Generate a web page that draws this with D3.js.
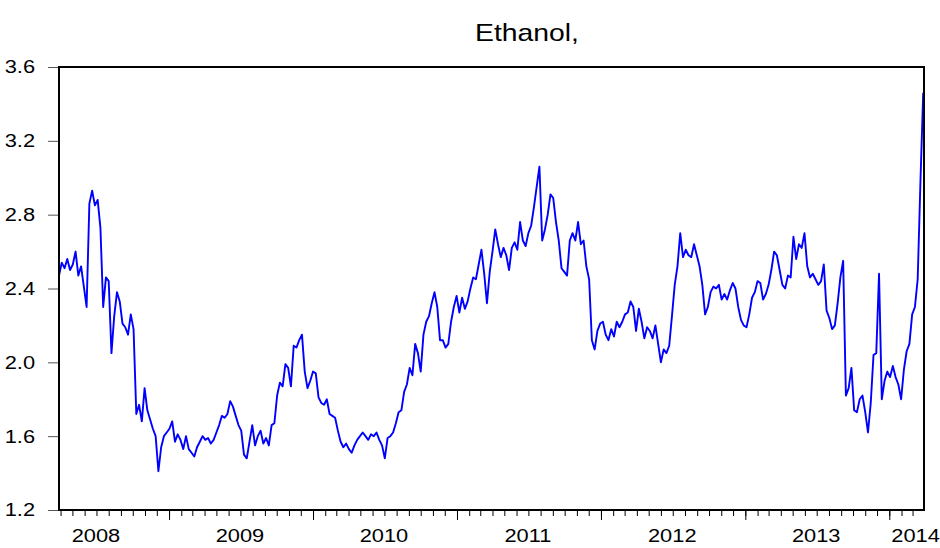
<!DOCTYPE html>
<html>
<head>
<meta charset="utf-8">
<script src="https://cdn.jsdelivr.net/npm/d3@7"></script>
<style>
  html, body { margin: 0; padding: 0; background: #fff; }
  svg text { font-family: "Liberation Sans", Arial, sans-serif; fill: #000; }
</style>
</head>
<body>
<div id="chart"></div>
<script>
// Weekly ethanol prices (first week: 28 Mar 2008)
const price2008 = [2.47, 2.54, 2.51, 2.56, 2.50, 2.53, 2.60, 2.47, 2.52, 2.41,
  2.30, 2.86, 2.93, 2.85, 2.88, 2.73, 2.30, 2.46, 2.44, 2.05,
  2.25, 2.38, 2.33, 2.21, 2.19, 2.15, 2.26, 2.18, 1.72, 1.77,
  1.68, 1.86, 1.74, 1.69, 1.64, 1.60, 1.41, 1.54, 1.60, 1.62];
const price2009 = [1.64, 1.68, 1.57, 1.61, 1.58, 1.53, 1.60, 1.53, 1.51, 1.49,
  1.54, 1.57, 1.60, 1.58, 1.59, 1.56, 1.58, 1.62, 1.66, 1.71,
  1.70, 1.72, 1.79, 1.76, 1.71, 1.66, 1.63, 1.50, 1.48, 1.57,
  1.66, 1.55, 1.60, 1.63, 1.56, 1.59, 1.55, 1.66, 1.67, 1.82,
  1.89, 1.87, 1.99, 1.97, 1.87, 2.09, 2.08, 2.12, 2.15, 1.95,
  1.86, 1.90];
const price2010 = [1.95, 1.94, 1.81, 1.78, 1.77, 1.80, 1.72, 1.71,
  1.70, 1.63, 1.57, 1.54, 1.56, 1.53, 1.51, 1.55, 1.58, 1.60,
  1.62, 1.60, 1.58, 1.61, 1.60, 1.62, 1.58, 1.55, 1.48, 1.59,
  1.60, 1.62, 1.67, 1.73, 1.74, 1.84, 1.88, 1.97, 1.93, 2.10,
  2.05, 1.95, 2.15, 2.22, 2.25, 2.32, 2.38, 2.30, 2.12, 2.12,
  2.08, 2.10, 2.22, 2.30];
const price2011 = [2.36, 2.27, 2.35, 2.29, 2.33, 2.40,
  2.46, 2.45, 2.53, 2.61, 2.48, 2.32, 2.49, 2.60, 2.72, 2.64,
  2.57, 2.62, 2.58, 2.50, 2.62, 2.65, 2.61, 2.76, 2.66, 2.63,
  2.70, 2.74, 2.84, 2.95, 3.06, 2.66, 2.72, 2.80, 2.91, 2.89,
  2.76, 2.66, 2.51, 2.49, 2.47, 2.66, 2.70, 2.66, 2.76, 2.64,
  2.66, 2.52, 2.45, 2.12, 2.07, 2.17, 2.21];
const price2012 = [2.22, 2.15, 2.12,
  2.18, 2.14, 2.22, 2.19, 2.22, 2.26, 2.27, 2.33, 2.30, 2.17,
  2.29, 2.22, 2.13, 2.19, 2.17, 2.13, 2.20, 2.10, 2.00, 2.07,
  2.05, 2.09, 2.25, 2.42, 2.52, 2.70, 2.57, 2.61, 2.58, 2.57,
  2.64, 2.58, 2.52, 2.42, 2.26, 2.30, 2.38, 2.41, 2.40, 2.42,
  2.34, 2.37, 2.34, 2.39, 2.43, 2.40, 2.30, 2.23, 2.20];
const price2013 = [2.19,
  2.26, 2.35, 2.38, 2.44, 2.43, 2.34, 2.37, 2.42, 2.50, 2.60,
  2.58, 2.50, 2.42, 2.40, 2.47, 2.46, 2.68, 2.56, 2.64, 2.62,
  2.70, 2.52, 2.46, 2.48, 2.45, 2.42, 2.44, 2.53, 2.28, 2.24,
  2.18, 2.20, 2.32, 2.46, 2.55, 1.82, 1.86, 1.97, 1.74, 1.73,
  1.80, 1.82, 1.73, 1.62, 1.78, 2.04, 2.05, 2.48, 1.80, 1.90,
  1.95];
const price2014 = [1.92, 1.98, 1.92, 1.88, 1.80, 1.96, 2.06, 2.10, 2.26, 2.30,
  2.45, 2.98, 3.46];

const yTicks = [1.2, 1.6, 2.0, 2.4, 2.8, 3.2, 3.6];
const yearLabels = ["2008", "2009", "2010", "2011", "2012", "2013", "2014"];
const title = "Ethanol,";

const firstWeek = new Date(Date.UTC(2008, 2, 28));
const lastDay = new Date(Date.UTC(2014, 2, 30));

const width = 940;
const height = 548;
const plot = { left: 59, right: 924, top: 67, bottom: 510 };
const textScale = 1.18; // glyphs in the picture are stretched sideways

const prices = [].concat(price2008, price2009, price2010, price2011,
  price2012, price2013, price2014);
const series = prices.map((v, i) => ({
  date: d3.utcDay.offset(firstWeek, 7 * i),
  value: v,
}));

const x = d3.scaleUtc().domain([firstWeek, lastDay]).range([plot.left, plot.right]);
const y = d3.scaleLinear().domain([1.2, 3.6]).range([plot.bottom, plot.top]);

const svg = d3
  .select("#chart")
  .append("svg")
  .attr("width", width)
  .attr("height", height);

// Title
svg
  .append("text")
  .attr("transform", `translate(527,41) scale(${textScale},1)`)
  .attr("text-anchor", "middle")
  .attr("font-size", "24px")
  .text(title);

// Y axis: short grey ticks outside the frame
const yAxis = svg
  .append("g")
  .attr("transform", `translate(${plot.left},0)`)
  .call(
    d3.axisLeft(y).tickValues(yTicks).tickSize(11).tickPadding(13)
      .tickFormat(d3.format(".1f"))
  );
yAxis.select(".domain").remove();
yAxis.selectAll("line").attr("stroke", "#555");
yAxis
  .selectAll("text")
  .attr("font-size", "18.5px")
  .attr("x", -24 / textScale)
  .attr("transform", `scale(${textScale},1)`);

// X axis: monthly minor ticks, yearly major ticks
const [d0, d1] = x.domain();
const months = d3.utcMonth.range(d3.utcMonth.ceil(d0), d1);
const years = d3.utcYear.range(d3.utcYear.ceil(d0), d1);

const xMinor = svg
  .append("g")
  .attr("transform", `translate(0,${plot.bottom})`)
  .call(d3.axisBottom(x).tickValues(months).tickSize(6).tickFormat(""));
xMinor.select(".domain").remove();

const xMajor = svg
  .append("g")
  .attr("transform", `translate(0,${plot.bottom})`)
  .call(d3.axisBottom(x).tickValues(years).tickSize(10).tickFormat(""));
xMajor.select(".domain").remove();

// Year labels sit at mid-year, the last one is pulled back inside
const labelDates = yearLabels.map((yr) => {
  const mid = new Date(Date.UTC(+yr, 6, 1));
  return mid > d1 ? d3.utcDay.offset(d1, -20) : mid;
});
const xLabels = svg
  .append("g")
  .attr("transform", `translate(-1,${plot.bottom})`)
  .call(
    d3.axisBottom(x).tickValues(labelDates).tickSize(0).tickPadding(18.6)
      .tickFormat((d, i) => yearLabels[i])
  );
xLabels.select(".domain").remove();
xLabels
  .selectAll("text")
  .attr("font-size", "18.5px")
  .attr("transform", `scale(${textScale},1)`);

// Series line
const line = d3
  .line()
  .defined((d) => d.value != null)
  .x((d) => x(d.date))
  .y((d) => y(d.value));

svg
  .append("path")
  .datum(series)
  .attr("fill", "none")
  .attr("stroke", "#0000ff")
  .attr("stroke-width", 1.9)
  .attr("stroke-linejoin", "round")
  .attr("d", line);

// Frame
svg
  .append("rect")
  .attr("x", plot.left)
  .attr("y", plot.top)
  .attr("width", plot.right - plot.left)
  .attr("height", plot.bottom - plot.top)
  .attr("fill", "none")
  .attr("stroke", "#000")
  .attr("stroke-width", 2);
</script>
</body>
</html>
